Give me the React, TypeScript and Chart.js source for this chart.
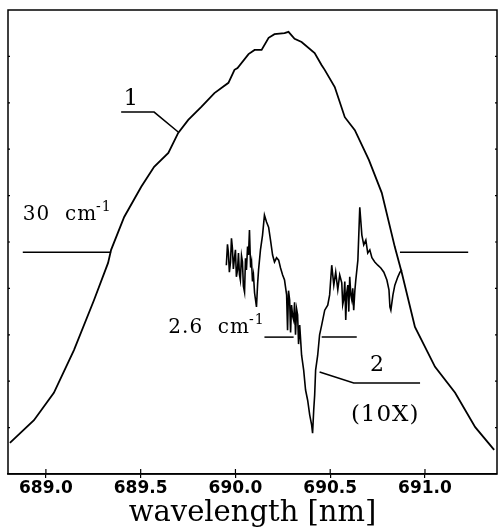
import React, { useEffect, useRef } from "react";
import { Chart, registerables } from "chart.js";

Chart.register(...registerables);

// Curve 1: broad emission band (wavelength nm, relative intensity)
const curve1Wavelength = [
  688.81, 688.937, 689.042, 689.148, 689.254, 689.328, 689.344, 689.413, 689.503, 689.571,
  689.646, 689.698, 689.751, 689.82, 689.889, 689.963, 689.995, 690.011, 690.069, 690.101,
  690.138, 690.175, 690.206, 690.259, 690.28, 690.312, 690.349, 690.418, 690.455, 690.471,
  690.524, 690.577, 690.63, 690.704, 690.772, 690.841, 690.878, 690.947, 691.053, 691.159,
  691.265, 691.365,
];
const curve1Intensity = [
  6.7, 11.6, 17.5, 26.7, 37.5, 45.5, 48.3, 55.4, 61.9, 66.2,
  69.2, 73.5, 76.3, 79.1, 82.1, 84.3, 87.1, 87.5, 90.5, 91.4,
  91.4, 94.0, 94.8, 95.0, 95.3, 93.8, 93.1, 90.7, 88.1, 87.1,
  83.4, 76.9, 74.1, 67.7, 60.6, 48.9, 43.3, 31.7, 23.1, 17.5,
  10.1, 5.2,
];

// Curve 2: narrowed spectrum (10x)
const curve2Wavelength = [
  689.952, 689.958, 689.963, 689.968, 689.974, 689.979, 689.984, 689.989, 689.995, 690.0,
  690.005, 690.011, 690.016, 690.021, 690.026, 690.032, 690.037, 690.042, 690.048, 690.053,
  690.058, 690.064, 690.069, 690.074, 690.08, 690.085, 690.09, 690.095, 690.101, 690.106,
  690.111, 690.117, 690.122, 690.132, 690.143, 690.153, 690.164, 690.175, 690.185, 690.196,
  690.206, 690.217, 690.228, 690.238, 690.249, 690.259, 690.27, 690.275, 690.28, 690.286,
  690.291, 690.296, 690.302, 690.307, 690.312, 690.317, 690.323, 690.328, 690.333, 690.339,
  690.349, 690.36, 690.37, 690.381, 690.392, 690.402, 690.407, 690.413, 690.418, 690.423,
  690.434, 690.444, 690.455, 690.471, 690.487, 690.497, 690.508, 690.519, 690.529, 690.54,
  690.55, 690.561, 690.566, 690.571, 690.577, 690.582, 690.587, 690.593, 690.598, 690.603,
  690.609, 690.614, 690.619, 690.624, 690.63, 690.635, 690.646, 690.656, 690.667, 690.677,
  690.688, 690.698, 690.709, 690.72, 690.735, 690.751, 690.767, 690.783, 690.799, 690.81,
  690.815, 690.82, 690.831, 690.841, 690.857, 690.868, 690.878,
];
const curve2Intensity = [
  45.0, 49.5, 47.6, 43.5, 45.7, 50.8, 48.7, 44.2, 46.6, 48.3,
  42.5, 44.0, 47.6, 43.0, 41.8, 47.0, 45.7, 40.5, 39.2, 46.5,
  44.0, 49.0, 47.2, 52.6, 44.5, 45.7, 41.5, 42.9, 39.0, 37.5,
  36.0, 41.0, 44.0, 48.3, 51.5, 55.8, 54.3, 53.2, 50.4, 47.2,
  45.7, 46.6, 46.1, 44.4, 42.9, 41.8, 38.6, 31.0, 39.5, 37.5,
  30.5, 36.4, 34.0, 33.2, 37.0, 30.0, 35.5, 34.3, 28.0, 32.1,
  25.6, 22.4, 18.1, 15.9, 12.7, 10.6, 8.8, 13.8, 17.0, 22.4,
  25.6, 30.0, 32.1, 35.3, 36.4, 38.6, 45.0, 40.7, 43.5, 39.7,
  42.9, 41.2, 36.5, 37.5, 41.5, 33.2, 39.0, 40.7, 35.0, 42.5,
  38.5, 37.5, 40.0, 35.3, 39.5, 41.8, 46.1, 57.5, 51.5, 49.4,
  50.4, 47.6, 48.3, 46.6, 45.7, 45.0, 44.4, 43.5, 41.8, 39.7,
  36.0, 35.3, 38.6, 40.7, 42.5, 43.5, 44.0,
];

const xTicks = [689.0, 689.5, 690.0, 690.5, 691.0];
const xMin = 688.8;
const xMax = 691.38;
const yMin = 0;
const yMax = 100;
const xTitle = "wavelength [nm]";

const annotationPlugin = {
  id: "figureAnnotations",
  afterDatasetsDraw(chart: any) {
    const { ctx, chartArea, scales } = chart;
    const xs = scales.x;
    const ys = scales.y;
    const px = (v: number) => xs.getPixelForValue(v);
    const py = (v: number) => ys.getPixelForValue(v);
    ctx.save();
    ctx.strokeStyle = "#000";
    ctx.fillStyle = "#000";
    // frame
    ctx.lineWidth = 1.5;
    ctx.strokeRect(chartArea.left, chartArea.top, chartArea.right - chartArea.left, chartArea.bottom - chartArea.top);
    // inward ticks on x axis
    ctx.lineWidth = 1.2;
    xTicks.forEach((t) => {
      const x = px(t);
      ctx.beginPath();
      ctx.moveTo(x, chartArea.bottom);
      ctx.lineTo(x, chartArea.bottom - 5);
      ctx.stroke();
    });
    // small inward ticks on y axes
    for (let v = 10; v < 100; v += 10) {
      const y = py(v);
      ctx.beginPath();
      ctx.moveTo(chartArea.left, y);
      ctx.lineTo(chartArea.left + 2, y);
      ctx.moveTo(chartArea.right, y);
      ctx.lineTo(chartArea.right - 2, y);
      ctx.stroke();
    }

    const line = (pts: number[][]) => {
      ctx.beginPath();
      pts.forEach(([a, b], i) => {
        if (i === 0) ctx.moveTo(px(a), py(b));
        else ctx.lineTo(px(a), py(b));
      });
      ctx.stroke();
    };
    ctx.lineWidth = 1.5;
    // label 1
    line([[689.397, 78.0], [689.571, 78.0], [689.698, 73.7]]);
    // 30 cm-1 FWHM markers
    line([[688.878, 47.8], [689.344, 47.8]]);
    line([[690.868, 47.8], [691.228, 47.8]]);
    // 2.6 cm-1 markers
    line([[690.153, 29.5], [690.307, 29.5]]);
    line([[690.455, 29.5], [690.64, 29.5]]);
    // label 2 leader
    line([[690.444, 22.0], [690.624, 19.6], [690.974, 19.6]]);

    (ctx as any).letterSpacing = "1px";
    ctx.textBaseline = "alphabetic";
    ctx.textAlign = "left";
    const serif = (size: number) => `${size}px "DejaVu Serif"`;
    const withSup = (main: string, x: number, y: number, size: number, sup: string) => {
      ctx.font = serif(size);
      ctx.fillText(main, x, y);
      const w = ctx.measureText(main).width;
      ctx.font = serif(Math.round(size * 0.72));
      ctx.fillText(sup, x + w - 1, y - size * 0.45);
    };
    ctx.textAlign = "center";
    ctx.font = serif(23);
    ctx.fillText("1", px(689.45), py(79.6));
    ctx.textAlign = "left";
    withSup("30  cm", px(688.878), py(54.7), 20, "-1");
    withSup("2.6  cm", px(689.646), py(30.4), 20, "-1");
    ctx.textAlign = "center";
    ctx.font = serif(22);
    ctx.fillText("2", px(690.75), py(22.3));
    ctx.font = serif(23);
    ctx.fillText("(10X)", px(690.79), py(11.4));
    ctx.restore();
  },
};

export default function App() {
  const canvasRef = useRef<HTMLCanvasElement | null>(null);

  useEffect(() => {
    const canvas = canvasRef.current;
    if (!canvas) return;
    const chart = new Chart(canvas, {
      type: "line",
      data: {
        datasets: [
          {
            label: "1",
            data: curve1Wavelength.map((w, i) => ({ x: w, y: curve1Intensity[i] })),
            borderColor: "#000",
            borderWidth: 1.8,
            pointRadius: 0,
            tension: 0,
            fill: false,
          },
          {
            label: "2 (10X)",
            data: curve2Wavelength.map((w, i) => ({ x: w, y: curve2Intensity[i] })),
            borderColor: "#000",
            borderWidth: 1.6,
            pointRadius: 0,
            tension: 0,
            fill: false,
          },
        ],
      },
      options: {
        animation: false,
        responsive: false,
        maintainAspectRatio: false,
        devicePixelRatio: 1,
        layout: { padding: { left: 8, top: 10, right: 1, bottom: 0 } },
        plugins: {
          legend: { display: false },
          tooltip: { enabled: false },
          title: { display: false },
        },
        scales: {
          x: {
            type: "linear",
            min: xMin,
            max: xMax,
            afterFit: (s: any) => {
              s.height = 57;
            },
            afterBuildTicks: (s: any) => {
              s.ticks = xTicks.map((v) => ({ value: v }));
            },
            grid: {
              drawOnChartArea: false,
              drawTicks: true,
              tickLength: 4,
              color: "#000",
              lineWidth: 1.2,
            },
            border: { display: true, color: "#000", width: 1.5 },
            ticks: {
              autoSkip: false,
              maxRotation: 0,
              padding: 0,
              color: "#000",
              font: { family: "DejaVu Sans", size: 17, weight: "bold" },
              callback: (v: any) => Number(v).toFixed(1),
            },
            title: {
              display: true,
              text: xTitle,
              color: "#000",
              font: { family: "DejaVu Serif", size: 29 },
              padding: { top: 0, bottom: 0 },
            },
          },
          y: {
            type: "linear",
            min: yMin,
            max: yMax,
            display: false,
          },
        },
      },
      plugins: [annotationPlugin],
    });
    return () => chart.destroy();
  }, []);

  return (
    <div style={{ position: "absolute", left: 0, top: 0, width: 498, height: 531, background: "#fff" }}>
      <canvas ref={canvasRef} width={498} height={531} style={{ width: 498, height: 531, display: "block" }} />
    </div>
  );
}
